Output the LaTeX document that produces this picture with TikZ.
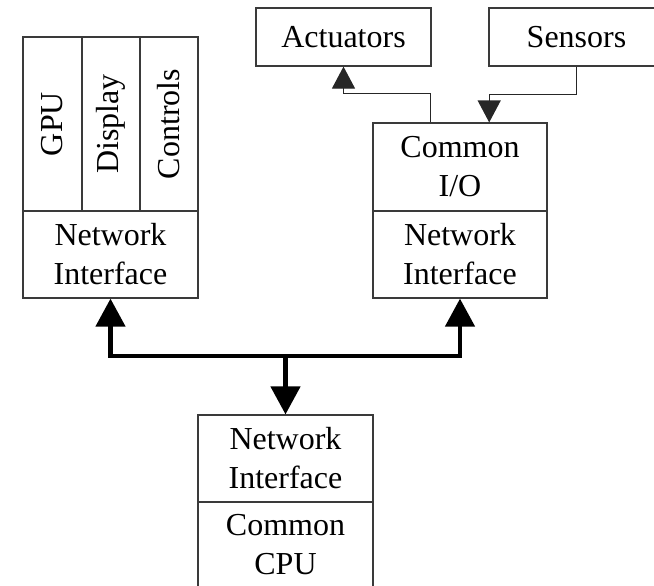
\documentclass[tikz,border=0pt]{standalone}
\usepackage{fontspec}
\setmainfont{Liberation Serif}
\usetikzlibrary{arrows.meta,calc}
\definecolor{boxline}{HTML}{3A3A3A}
\tikzset{
  bustip/.tip={Triangle[length=14pt,width=14.5pt]},
  linktip/.tip={Triangle[length=11pt,width=11.5pt]}
}
\begin{document}
\begin{tikzpicture}[x=0.5pt,y=-0.5pt,
  font=\fontsize{16}{19.5}\selectfont,
  cell/.style={draw=boxline, line width=0.6pt, inner sep=0pt, align=center},
  thinarrow/.style={draw=black!85, line width=0.6pt, -linktip},
  bus/.style={draw=black, line width=2.3pt}]
\clip (0,0) rectangle (654,585);
\useasboundingbox (0,0) rectangle (654,585);

% display unit
\node[cell, minimum width=29.5pt, minimum height=87pt] (gpu)  at (52.5,124) {\rotatebox{90}{GPU}};
\node[cell, minimum width=29pt,   minimum height=87pt] (disp) at (111,124)  {\rotatebox{90}{Display}};
\node[cell, minimum width=29pt,   minimum height=87pt] (ctrl) at (169,124)  {\rotatebox{90}{Controls}};
\node[cell, minimum width=87.5pt, minimum height=43.5pt] (lni) at (110.5,254.5) {Network\\Interface};

% peripherals
\node[cell, minimum width=87.5pt, minimum height=29pt] (act) at (343.5,37) {Actuators};
\node[cell, minimum width=87.5pt, minimum height=29pt] (sen) at (576.5,37) {Sensors};

% I/O unit
\node[cell, minimum width=87pt, minimum height=44pt]   (cio) at (460,167)   {Common\\I/O};
\node[cell, minimum width=87pt, minimum height=43.5pt] (rni) at (460,254.5) {Network\\Interface};

% CPU unit
\node[cell, minimum width=87.5pt, minimum height=43.5pt] (bni) at (285.5,458.5) {Network\\Interface};
\node[cell, minimum width=87.5pt, minimum height=43pt]   (cpu) at (285.5,545)   {Common\\CPU};

% I/O links
\draw[thinarrow] ($(cio.north west)!1/3!(cio.north east)$) -- ++(0,-29) -| (act.south);
\draw[thinarrow] (sen.south) -- ++(0,28) -| ($(cio.north west)!2/3!(cio.north east)$);

% network bus
\coordinate (junc) at (285.5,356);
\draw[bus, bustip-bustip] (lni.south) |- (junc) -| (rni.south);
\draw[bus, -bustip] (junc) -- (bni.north);
\end{tikzpicture}
\end{document}
